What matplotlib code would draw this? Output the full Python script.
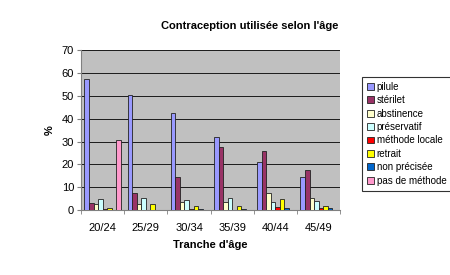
import numpy as np
import matplotlib
matplotlib.use('Agg')
import matplotlib.pyplot as plt

plt.rcParams['font.family'] = ['Liberation Sans', 'DejaVu Sans']

# Data
tranches = ['20/24', '25/29', '30/34', '35/39', '40/44', '45/49']
pilule = [57.5, 50.5, 42.5, 31.8, 21.0, 14.3]
sterilet = [3.0, 7.5, 14.5, 27.6, 26.0, 17.5]
abstinence = [2.5, 2.5, 3.5, 3.5, 7.4, 5.1]
preservatif = [5.0, 5.2, 4.5, 5.5, 3.4, 3.8]
methode_locale = [0.5, 0.2, 0.5, 0.2, 1.5, 1.0]
retrait = [1.0, 2.5, 2.0, 2.0, 4.7, 2.0]
non_precisee = [0.0, 0.0, 0.3, 0.3, 0.9, 0.7]
pas_de_methode = [30.5, 0.0, 0.0, 0.0, 0.0, 0.0]

series = [
    ('pilule', pilule, '#9999FF'),
    ('stérilet', sterilet, '#993366'),
    ('abstinence', abstinence, '#FFFFCC'),
    ('préservatif', preservatif, '#CCFFFF'),
    ('méthode locale', methode_locale, '#FF0000'),
    ('retrait', retrait, '#FFFF00'),
    ('non précisée', non_precisee, '#0066CC'),
    ('pas de méthode', pas_de_methode, '#FF99CC'),
]

fig = plt.figure(figsize=(4.5, 2.75), dpi=100)
ax = fig.add_axes([0.18, 0.236, 0.576, 0.582])
ax.set_facecolor('#C0C0C0')

n = len(series)
w = 1.0 / (n + 1.5)
x = np.arange(len(tranches))
for i, (name, vals, col) in enumerate(series):
    pos = x - 0.5 + 0.75 * w + i * w + w / 2
    ax.bar(pos, vals, width=w, color=col, edgecolor='#222222',
           linewidth=0.6, label=name, zorder=3)

ax.set_xlim(-0.5, len(tranches) - 0.5)
ax.set_ylim(0, 70)
ax.set_yticks(range(0, 71, 10))
ax.yaxis.grid(True, color='#000000', linewidth=0.6, zorder=1)
ax.set_xticks(x)
ax.set_xticklabels(tranches, fontsize=8)
ax.set_xticks(np.arange(-0.5, len(tranches)), minor=True)
ax.tick_params(axis='x', which='major', length=0, pad=9)
ax.tick_params(axis='x', which='minor', length=3, color='#808080')
ax.tick_params(axis='y', labelsize=8, length=3, color='#808080', pad=2)
for s in ['top', 'right']:
    ax.spines[s].set_visible(False)
ax.spines['left'].set_color('#808080')
ax.spines['bottom'].set_color('#808080')

ax.set_xlabel("Tranche d'âge", fontsize=8, fontweight='bold', labelpad=5)
ax.set_ylabel('%', fontsize=8, fontweight='bold', labelpad=5)
fig.text(0.555, 0.905, "Contraception utilisée selon l'âge",
         ha='center', va='center', fontsize=8, fontweight='bold')

leg = fig.legend(loc='upper left', bbox_to_anchor=(0.805, 0.72), fontsize=7,
                 frameon=True, fancybox=False, edgecolor='black',
                 handlelength=0.7, handleheight=0.7, handletextpad=0.3,
                 labelspacing=0.35, borderpad=0.5, borderaxespad=0)
leg.get_frame().set_linewidth(0.8)

fig.savefig('out.png', dpi=100)
